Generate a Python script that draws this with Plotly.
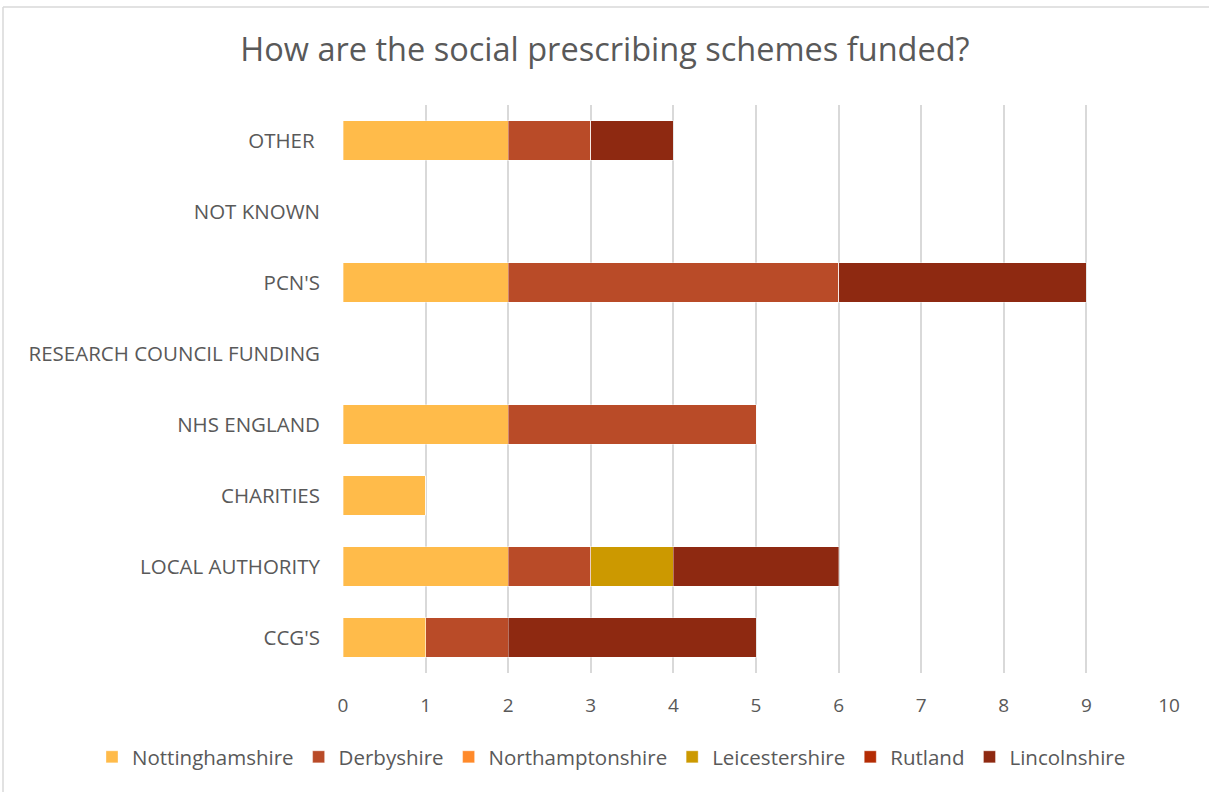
import plotly.graph_objects as go

categories = ["CCG'S", "LOCAL AUTHORITY", "CHARITIES", "NHS ENGLAND",
              "RESEARCH COUNCIL FUNDING", "PCN'S", "NOT KNOWN", "OTHER "]

nottinghamshire = [1, 2, 1, 2, 0, 2, 0, 2]
derbyshire = [1, 1, 0, 3, 0, 4, 0, 1]
northamptonshire = [0, 0, 0, 0, 0, 0, 0, 0]
leicestershire = [0, 1, 0, 0, 0, 0, 0, 0]
rutland = [0, 0, 0, 0, 0, 0, 0, 0]
lincolnshire = [3, 2, 0, 0, 0, 3, 0, 1]

series = [
    ("Nottinghamshire", nottinghamshire, "#FFBB4A"),
    ("Derbyshire", derbyshire, "#B94B28"),
    ("Northamptonshire", northamptonshire, "#FF8A2A"),
    ("Leicestershire", leicestershire, "#CC9900"),
    ("Rutland", rutland, "#B42C04"),
    ("Lincolnshire", lincolnshire, "#8E2911"),
]

FONT = "Open Sans"
GREY = "#595959"

# plot area geometry in pixels
PL, PR, PT, PB = 343, 1169, 105, 673
PW, PH = PR - PL, PB - PT

fig = go.Figure()
for name, vals, color in series:
    fig.add_trace(go.Bar(
        y=categories, x=vals, name=name, orientation="h",
        marker=dict(color=color, line=dict(color="rgba(255,255,255,0.35)", width=1)),
    ))

fig.update_layout(
    barmode="stack",
    bargap=0.44,
    width=1210, height=792,
    margin=dict(l=PL, r=1210 - PR, t=PT, b=792 - PB),
    paper_bgcolor="white", plot_bgcolor="white",
    font=dict(family=FONT, color=GREY, size=18),
    title=dict(text="How are the social prescribing schemes funded?",
               x=0.5, xref="container", xanchor="center",
               y=1 - 50 / 792, yanchor="middle",
               font=dict(size=32.5, color=GREY, family=FONT)),
    xaxis=dict(range=[0, 10], dtick=1, showgrid=True, gridcolor="#D9D9D9",
               gridwidth=1.5, zeroline=False, showline=False,
               tickfont=dict(size=19, color=GREY), ticks="", ticklabelstandoff=19),
    yaxis=dict(categoryorder="array", categoryarray=categories,
               showgrid=False, zeroline=False, showline=False, ticks="",
               tickfont=dict(size=20.5, color=GREY), ticklabelstandoff=22),
    legend=dict(orientation="h", xref="paper", yref="paper",
                x=(92 - PL) / PW, xanchor="left",
                y=(PB - 757) / PH, yanchor="middle",
                font=dict(size=20.5, color=GREY), itemwidth=30,
                traceorder="normal"),
    shapes=[
        dict(type="line", xref="paper", yref="paper",
             x0=(3 - PL) / PW, x1=(1209 - PL) / PW,
             y0=(PB - 7) / PH, y1=(PB - 7) / PH,
             line=dict(color="#D9D9D9", width=1.5)),
        dict(type="line", xref="paper", yref="paper",
             x0=(3 - PL) / PW, x1=(3 - PL) / PW,
             y0=(PB - 7) / PH, y1=(PB - 792) / PH,
             line=dict(color="#D9D9D9", width=1.5)),
    ],
)

fig.write_html("out.html")
